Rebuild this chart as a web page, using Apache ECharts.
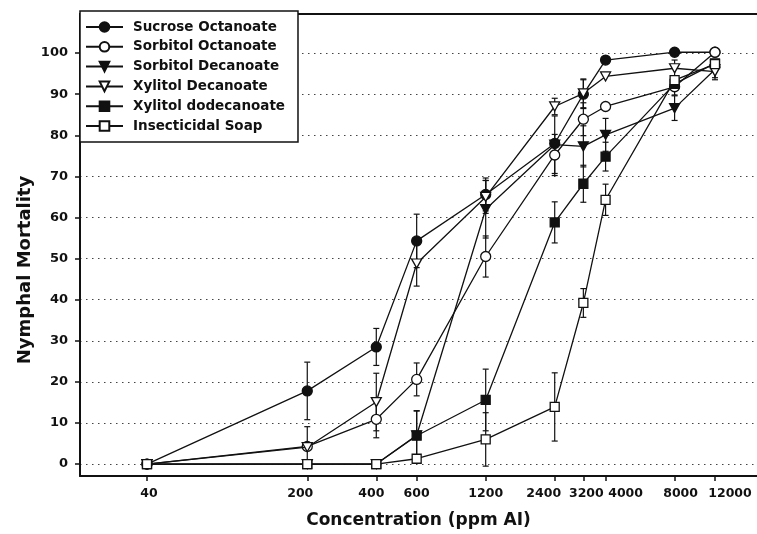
<!DOCTYPE html>
<html>
<head>
<meta charset="utf-8">
<script src="https://cdn.jsdelivr.net/npm/echarts@6/dist/echarts.min.js"></script>
<style>
  html, body { margin: 0; padding: 0; background: #fff; }
  #chart { width: 757px; height: 534px; }
</style>
</head>
<body>
<div id="chart"></div>
<script>
// ---- data ----
const concentrations = [40, 200, 400, 600, 1200, 2400, 3200, 4000, 8000, 12000];
const xTickLabels = [40, 200, 400, 600, 1200, 2400, 3200, 4000, 8000, 12000];
const yTickValues = [0, 10, 20, 30, 40, 50, 60, 70, 80, 90, 100];

const seriesNames = ['Sucrose Octanoate', 'Sorbitol Octanoate', 'Sorbitol Decanoate',
                     'Xylitol Decanoate', 'Xylitol dodecanoate', 'Insecticidal Soap'];

const sucroseOctanoate   = [0, 17.8, 28.5, 54.3, 65.6, 78.0, 90.0, 98.3, 100.2, 100.2];
const sorbitolOctanoate  = [0, 4.3, 10.9, 20.6, 50.5, 75.2, 83.9, 87.0, 91.8, 100.2];
const sorbitolDecanoate  = [0, 0, 0, 7.0, 62.0, 77.7, 77.3, 80.1, 86.6, 96.0];
const xylitolDecanoate   = [0, 4.1, 15.1, 48.8, 65.0, 87.0, 90.2, 94.3, 96.3, 95.5];
const xylitolDodecanoate = [0, 0, 0, 6.9, 15.6, 58.8, 68.2, 74.8, 92.5, 97.5];
const insecticidalSoap   = [0, 0, 0, 1.3, 6.0, 13.9, 39.2, 64.3, 93.4, 97.3];

// half-length of the error bars (0 = none visible)
const sucroseOctanoateErr   = [0, 7.0, 4.5, 6.5, 4.0, 0, 3.5, 0, 0, 0];
const sorbitolOctanoateErr  = [0, 0, 4.5, 4.0, 5.0, 5.0, 4.0, 0, 2.0, 0];
const sorbitolDecanoateErr  = [0, 0, 0, 6.0, 7.0, 7.0, 5.0, 4.0, 3.0, 2.0];
const xylitolDecanoateErr   = [0, 5.0, 7.0, 5.5, 4.0, 2.0, 3.5, 0, 2.0, 2.0];
const xylitolDodecanoateErr = [0, 0, 0, 6.0, 7.5, 5.0, 4.5, 3.5, 0, 0];
const insecticidalSoapErr   = [0, 0, 0, 0, 6.5, 8.3, 3.5, 3.8, 0, 0];

// ---- styling ----
const FONT = 'DejaVu Sans';
const INK = '#111';
// horizontal nudge (px) of each x tick label, as in the reference typesetting
const xLabelShift = [2, -7, -5, 0, 0, -11, 3, 20, 6, 15];

const values = [sucroseOctanoate, sorbitolOctanoate, sorbitolDecanoate,
                xylitolDecanoate, xylitolDodecanoate, insecticidalSoap];
const errors = [sucroseOctanoateErr, sorbitolOctanoateErr, sorbitolDecanoateErr,
                xylitolDecanoateErr, xylitolDodecanoateErr, insecticidalSoapErr];
const markers = [
  { symbol: 'circle',   fill: INK,    size: 10, rotate: 0 },
  { symbol: 'circle',   fill: '#fff', size: 10, rotate: 0 },
  { symbol: 'triangle', fill: INK,    size: [10, 9], rotate: 180 },
  { symbol: 'triangle', fill: '#fff', size: [10, 9], rotate: 180 },
  { symbol: 'rect',     fill: INK,    size: 9, rotate: 0 },
  { symbol: 'rect',     fill: '#fff', size: 9, rotate: 0 }
];

const xRich = {};
xLabelShift.forEach((s, i) => {
  xRich['s' + i] = { padding: s >= 0 ? [0, 0, 0, 2 * s] : [0, -2 * s, 0, 0] };
});

function errorRender(params, api) {
  const x = api.value(0), lo = api.value(1), hi = api.value(2);
  const p1 = api.coord([x, hi]);
  const p2 = api.coord([x, lo]);
  const w = 3;
  const st = { stroke: INK, lineWidth: 1.2 };
  return {
    type: 'group',
    children: [
      { type: 'line', shape: { x1: p1[0], y1: p1[1], x2: p2[0], y2: p2[1] }, style: st },
      { type: 'line', shape: { x1: p1[0] - w, y1: p1[1], x2: p1[0] + w, y2: p1[1] }, style: st },
      { type: 'line', shape: { x1: p2[0] - w, y1: p2[1], x2: p2[0] + w, y2: p2[1] }, style: st }
    ]
  };
}

const series = [];
seriesNames.forEach((name, i) => {
  const errData = [];
  concentrations.forEach((c, j) => {
    if (errors[i][j] > 0) errData.push([c, values[i][j] - errors[i][j], values[i][j] + errors[i][j]]);
  });
  series.push({
    type: 'custom',
    name: name + ' err',
    renderItem: errorRender,
    encode: { x: 0, y: [1, 2] },
    data: errData,
    z: 1,
    silent: true
  });
});
seriesNames.forEach((name, i) => {
  const m = markers[i];
  series.push({
    type: 'line',
    name: name,
    data: concentrations.map((c, j) => [c, values[i][j]]),
    symbol: m.symbol,
    symbolSize: m.size,
    symbolRotate: m.rotate,
    showAllSymbol: true,
    lineStyle: { color: INK, width: 1.3 },
    itemStyle: { color: m.fill, borderColor: INK, borderWidth: 1.3, opacity: 1 },
    z: 3 + i
  });
});

const chart = echarts.init(document.getElementById('chart'), null, { renderer: 'canvas' });
chart.setOption({
  animation: false,
  backgroundColor: '#fff',
  grid: { left: 80, top: 14, right: 0, bottom: 57, show: false },
  legend: {
    data: seriesNames,
    orient: 'vertical',
    left: 80, top: 11,
    padding: [9, 13, 9, 5],
    itemWidth: 37, itemHeight: 12, itemGap: 5.8,
    backgroundColor: '#fff',
    borderColor: INK, borderWidth: 1.5,
    textStyle: { fontFamily: FONT, fontWeight: 'bold', fontSize: 13.5, color: INK,
                 lineHeight: 14, padding: [0, 0, 0, 5] }
  },
  graphic: [{
    type: 'text',
    x: 25, y: 270,
    rotation: Math.PI / 2,
    style: { text: 'Nymphal Mortality', fontFamily: FONT, fontWeight: 'bold', fontSize: 18,
             fill: INK, align: 'center', verticalAlign: 'middle' }
  }],
  xAxis: [{
    type: 'log',
    min: 20.41, max: 18300,
    name: 'Concentration (ppm AI)',
    nameLocation: 'middle', nameGap: 36,
    nameTextStyle: { fontFamily: FONT, fontWeight: 'bold', fontSize: 17, color: INK },
    axisLine: { show: true, onZero: false, lineStyle: { color: INK, width: 2 } },
    axisTick: { show: true, customValues: xTickLabels, length: 5, lineStyle: { color: INK, width: 1.5 } },
    axisLabel: {
      customValues: xTickLabels, margin: 11,
      fontFamily: FONT, fontWeight: 'bold', fontSize: 12.5, color: INK,
      formatter: v => {
        const idx = xTickLabels.indexOf(Math.round(v));
        return '{s' + idx + '|' + Math.round(v) + '}';
      },
      rich: xRich
    },
    splitLine: { show: false },
    minorTick: { show: false }
  }, {
    type: 'value', position: 'top', min: 0, max: 1,
    axisLine: { show: true, onZero: false, lineStyle: { color: INK, width: 1.8 } },
    axisTick: { show: false }, axisLabel: { show: false }, splitLine: { show: false }
  }],
  yAxis: {
    type: 'value',
    min: -2.9, max: 109.5,
    axisLine: { show: true, onZero: false, lineStyle: { color: INK, width: 2 } },
    axisTick: { show: true, customValues: yTickValues, length: 5, lineStyle: { color: INK, width: 1.5 } },
    axisLabel: { customValues: yTickValues, margin: 12, fontFamily: FONT, fontWeight: 'bold', fontSize: 13, color: INK },
    splitLine: { show: true, lineStyle: { color: '#444', width: 1, type: [1.5, 4.5] } }
  },
  series: series
});
</script>
</body>
</html>
